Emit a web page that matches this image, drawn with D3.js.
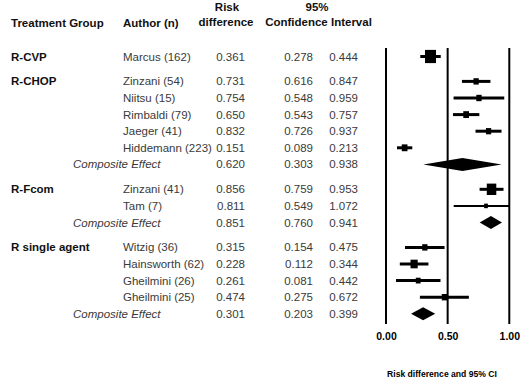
<!DOCTYPE html>
<html>
<head>
<meta charset="utf-8">
<script src="https://cdn.jsdelivr.net/npm/d3@7"></script>
<style>
  body { margin: 0; background: #fff; }
  text { font-family: "Liberation Sans", Arial, sans-serif; }
</style>
</head>
<body>
<div id="chart"></div>
<script>
// rows of the forest plot, top to bottom
const groups   = ["R-CVP", "R-CHOP", "", "", "", "", "", "R-Fcom", "", "", "R single agent", "", "", "", ""];
const authors  = ["Marcus (162)", "Zinzani (54)", "Niitsu (15)", "Rimbaldi (79)", "Jaeger (41)", "Hiddemann (223)", "Composite Effect",
                  "Zinzani (41)", "Tam (7)", "Composite Effect",
                  "Witzig (36)", "Hainsworth (62)", "Gheilmini (26)", "Gheilmini (25)", "Composite Effect"];
const riskDiff = [0.361, 0.731, 0.754, 0.650, 0.832, 0.151, 0.620, 0.856, 0.811, 0.851, 0.315, 0.228, 0.261, 0.474, 0.301];
const ciLow    = [0.278, 0.616, 0.548, 0.543, 0.726, 0.089, 0.303, 0.759, 0.549, 0.760, 0.154, 0.112, 0.081, 0.275, 0.203];
const ciHigh   = [0.444, 0.847, 0.959, 0.757, 0.937, 0.213, 0.938, 0.953, 1.072, 0.941, 0.475, 0.344, 0.442, 0.672, 0.399];
const weights  = [11, 5.3, 5.3, 5.7, 5.2, 5.7, 0, 9.5, 3.8, 0, 5.3, 7.2, 4.8, 5.3, 0];
// slot of each row (groups separated by half a row)
const slots    = [0, 1.5, 2.5, 3.5, 4.5, 5.5, 6.5, 8, 9, 10, 11.5, 12.5, 13.5, 14.5, 15.5];
const xTicks   = [0, 0.5, 1];

const rows = authors.map((a, i) => ({
  group: groups[i], author: a, rd: riskDiff[i], lo: ciLow[i], hi: ciHigh[i],
  w: weights[i], slot: slots[i], composite: a === "Composite Effect"
}));

const width = 520, height = 390;
const svg = d3.select("#chart").append("svg")
  .attr("width", width).attr("height", height);

const x = d3.scaleLinear().domain([0, 1]).range([386, 509.3]);
const y = d3.scaleLinear().domain([0, 15.5]).range([56.5, 313.8]);
const size = d3.scaleLinear().domain([0, 11]).range([0, 11]);

const fs = "11.5px";
const grey = "#3a3a3a";

// headers
const head = svg.append("g").attr("font-weight", "bold").attr("font-size", fs).attr("fill", "#111");
head.append("text").attr("x", 11).attr("y", 27).text("Treatment Group");
head.append("text").attr("x", 123).attr("y", 27).text("Author (n)");
head.append("text").attr("x", 227).attr("y", 11).attr("text-anchor", "middle").text("Risk");
head.append("text").attr("x", 226).attr("y", 26).attr("text-anchor", "middle").text("difference");
head.append("text").attr("x", 317).attr("y", 11).attr("text-anchor", "middle").text("95%");
head.append("text").attr("x", 318.5).attr("y", 26).attr("text-anchor", "middle").text("Confidence Interval");

// table text
const tbl = svg.append("g").attr("font-size", fs);
rows.forEach(d => {
  const yy = y(d.slot) + 4;
  if (d.group) {
    tbl.append("text").attr("x", 11).attr("y", yy)
      .attr("font-weight", "bold").attr("fill", "#111").text(d.group);
  }
  tbl.append("text").attr("x", d.composite ? 73 : 123).attr("y", yy)
    .attr("fill", grey).attr("font-style", d.composite ? "italic" : null).text(d.author);
  tbl.append("text").attr("x", 245).attr("y", yy).attr("text-anchor", "end").attr("fill", grey).text(d.rd.toFixed(3));
  tbl.append("text").attr("x", 313).attr("y", yy).attr("text-anchor", "end").attr("fill", grey).text(d.lo.toFixed(3));
  tbl.append("text").attr("x", 358).attr("y", yy).attr("text-anchor", "end").attr("fill", grey).text(d.hi.toFixed(3));
});

// reference lines at tick values
svg.append("g").selectAll("line").data(xTicks).enter().append("line")
  .attr("x1", d => x(d)).attr("x2", d => x(d))
  .attr("y1", 48).attr("y2", 324)
  .attr("stroke", "#000").attr("stroke-width", 2);

// axis labels
const axis = d3.axisBottom(x).tickValues(xTicks).tickSize(0).tickFormat(d3.format(".2f"));
const ax = svg.append("g").attr("transform", "translate(0,330)").call(axis);
ax.select(".domain").remove();
ax.selectAll("text").attr("font-family", "'Liberation Sans', Arial, sans-serif")
  .attr("font-size", "10.5px").attr("font-weight", "bold").attr("fill", "#000");

svg.append("text").attr("x", 442).attr("y", 377).attr("text-anchor", "middle")
  .attr("font-size", "8.6px").attr("font-weight", "bold").attr("fill", "#000")
  .text("Risk difference and 95% CI");

// marks
const clip = v => Math.min(Math.max(v, 0), 1);
const marks = svg.append("g");
rows.forEach(d => {
  const cy = y(d.slot);
  if (d.composite) {
    const h = 6.5;
    marks.append("path")
      .attr("d", `M${x(d.lo)},${cy} L${x(d.rd)},${cy - h} L${x(d.hi)},${cy} L${x(d.rd)},${cy + h} Z`)
      .attr("fill", "#000");
  } else {
    marks.append("line")
      .attr("x1", x(clip(d.lo))).attr("x2", x(clip(d.hi)))
      .attr("y1", cy).attr("y2", cy)
      .attr("stroke", "#000").attr("stroke-width", d.w < 4 ? 2 : 3);
    const s = size(d.w);
    marks.append("rect")
      .attr("x", x(d.rd) - s / 2).attr("y", cy - s * 0.6)
      .attr("width", s).attr("height", s * 1.2)
      .attr("fill", "#000");
  }
});
</script>
</body>
</html>
